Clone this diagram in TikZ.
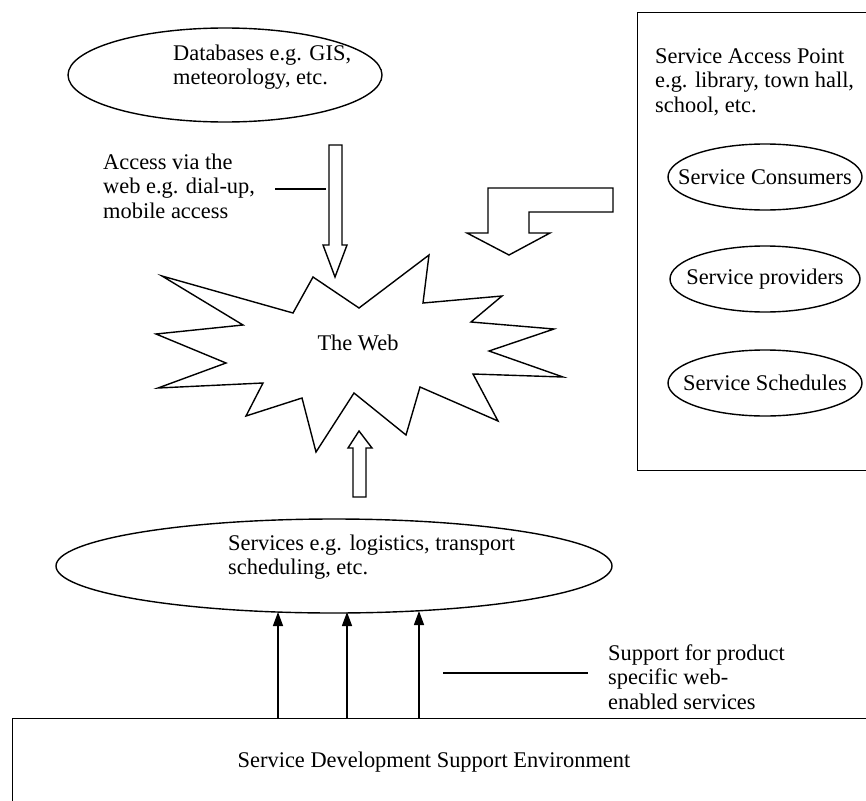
\documentclass[tikz,border=0pt]{standalone}
\usepackage{fontspec}
\setmainfont{Liberation Serif}
\usetikzlibrary{shapes.geometric,arrows.meta}

\begin{document}
\begin{tikzpicture}[x=1pt, y=-1pt,
    blob/.style={draw, line width=1.4pt, ellipse, inner sep=0pt},
    txt/.style={align=left, inner sep=0pt, font=\fontsize{22.4}{24.5}\selectfont},
    hollow/.style={draw, line width=1.4pt, fill=white, line join=miter},
    uparrow/.style={line width=1.4pt, -{Triangle[length=14pt,width=10pt]}}]
  \useasboundingbox (0,0) rectangle (866,800);

  % Service access point box (runs off the right edge)
  \node[draw, line width=1.4pt, anchor=north west, minimum width=260pt, minimum height=458pt]
    (sap) at (637,12) {};
  \node[txt, anchor=north west] (saptext) at (655,48)
    {Service Access Point\\e.g. library, town hall,\\school, etc.};
  \node[blob, minimum width=194pt, minimum height=66pt] (consumers) at (765,177) {};
  \node[txt] (constext) at (consumers) {Service Consumers};
  \node[blob, minimum width=190pt, minimum height=66pt] (providers) at (765,279) {};
  \node[txt] (provtext) at (providers) {Service providers};
  \node[blob, minimum width=194pt, minimum height=66pt] (schedules) at (765,383) {};
  \node[txt] (schedtext) at (schedules) {Service Schedules};

  % Databases
  \node[blob, minimum width=314pt, minimum height=94pt] (db) at (225,75) {};
  \node[txt, anchor=west] (dbtext) at (173,67) {Databases e.g. GIS,\\meteorology, etc.};

  % Access via the web
  \node[txt, anchor=west] (access) at (103,186)
    {Access via the\\web e.g. dial-up,\\mobile access};
  \coordinate (accA) at (275,189);
  \coordinate (accB) at (326,189);
  \draw[line width=1.4pt] (accA) -- (accB);

  % down arrow into the web
  \draw[hollow] (329,145) -- (342,145) -- (342,245) -- (347,245) -- (335,277)
    -- (323,245) -- (329,245) -- cycle;

  % bent arrow from the access point
  \draw[hollow] (488,188) -- (613,188) -- (613,212) -- (529,212) -- (529,233)
    -- (550,233) -- (509,255) -- (467,233) -- (488,233) -- cycle;

  % The Web
  \draw[line width=1.4pt, line join=miter] (162,276) -- (293,313) -- (313,277) -- (359,308)
    -- (429,255) -- (423,303) -- (502,296) -- (471,322) -- (554,329)
    -- (489,351) -- (563,377) -- (473,374) -- (498,421) -- (420,387)
    -- (406,435) -- (354,393) -- (316,452) -- (302,398) -- (246,416)
    -- (263,383) -- (158,388) -- (226,363) -- (156,334) -- (243,325) -- cycle;
  \node[txt] (web) at (358,343) {The Web};

  % up arrow from services
  \draw[hollow] (353,497) -- (353,448) -- (348,448) -- (359,431) -- (372,448)
    -- (366,448) -- (366,497) -- cycle;

  % Services
  \node[blob, minimum width=556pt, minimum height=94pt] (svc) at (334,566) {};
  \node[txt, anchor=west] (svctext) at (228,557)
    {Services e.g. logistics, transport\\scheduling, etc.};

  % Support environment (runs off the bottom right)
  \node[draw, line width=1.4pt, anchor=north west, minimum width=900pt, minimum height=90pt]
    (env) at (12,718) {};
  \node[txt] (envtext) at (434,762) {Service Development Support Environment};

  \coordinate (tipA) at (278,612);
  \coordinate (tipB) at (347,612);
  \coordinate (tipC) at (419,611);
  \draw[uparrow] (env.north -| tipA) -- (tipA);
  \draw[uparrow] (env.north -| tipB) -- (tipB);
  \draw[uparrow] (env.north -| tipC) -- (tipC);

  % Support for product
  \node[txt, anchor=west] (support) at (608,677)
    {Support for product\\specific web-\\enabled services};
  \coordinate (supA) at (443,673);
  \coordinate (supB) at (588,673);
  \draw[line width=1.4pt] (supA) -- (supB);
\end{tikzpicture}
\end{document}
